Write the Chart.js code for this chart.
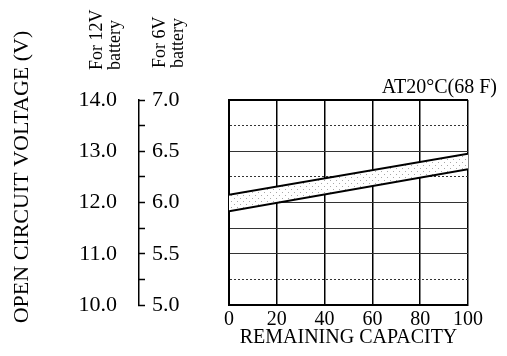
<!DOCTYPE html>
<html><head><meta charset="utf-8">
<script src="https://cdn.jsdelivr.net/npm/chart.js@4"></script>
<style>html,body{margin:0;padding:0;background:#fff}#wrap{width:507px;height:356px}</style>
</head><body><div id="wrap"><canvas id="c" width="507" height="356"></canvas></div>
<script>
// ---- data ----
const capacity = [0, 100];               // remaining capacity (%)
const upperVoltage = [12.15, 12.95];     // 12V battery, upper bound
const lowerVoltage = [11.83, 12.65];     // 12V battery, lower bound
const xTicks = [0, 20, 40, 60, 80, 100];
const volt12Ticks = [10, 11, 12, 13, 14];
const volt6Ticks = [5, 5.5, 6, 6.5, 7];
const dottedLevels = [13.5, 12.5, 10.5];

const serif = "'Liberation Serif', 'Times New Roman', serif";
Chart.defaults.font.family = serif;
Chart.defaults.color = '#000';

// stipple pattern for the band
const dots = document.createElement('canvas'); dots.width = 6; dots.height = 6;
const dctx = dots.getContext('2d');
dctx.fillStyle = '#fff'; dctx.fillRect(0, 0, 6, 6);
dctx.fillStyle = '#a8a8a8'; dctx.fillRect(0, 0, 1, 1); dctx.fillRect(3, 3, 1, 1);
const stipple = dctx.createPattern(dots, 'repeat');

const toPts = (xs, ys) => xs.map((x, i) => ({x, y: ys[i]}));

const sideText = {
  id: 'sideText',
  afterDraw(chart) {
    const ctx = chart.ctx;
    const y12 = chart.scales.y12, y6 = chart.scales.y6, ca = chart.chartArea;
    function vtext(t, x, y, size, align) {
      ctx.save(); ctx.translate(x, y); ctx.rotate(-Math.PI / 2);
      ctx.font = size + 'px ' + serif; ctx.fillStyle = '#000';
      ctx.textAlign = align; ctx.textBaseline = 'middle';
      ctx.fillText(t, 0, 0); ctx.restore();
    }
    vtext('OPEN CIRCUIT VOLTAGE (V)', y12.left + 22, ca.top + 77, 22, 'center');
    vtext('For 12V', y12.right - 33, ca.top - 30, 18, 'left');
    vtext('battery', y12.right - 15, ca.top - 30, 18, 'left');
    vtext('For 6V', y6.right + 21, ca.top - 32, 18, 'left');
    vtext('battery', y6.right + 39, ca.top - 32, 18, 'left');
  }
};

new Chart(document.getElementById('c'), {
  type: 'line',
  data: {
    datasets: [
      {data: toPts(capacity, lowerVoltage), yAxisID: 'y12', borderColor: '#000', borderWidth: 2, pointRadius: 0, fill: false},
      {data: toPts(capacity, upperVoltage), yAxisID: 'y12', borderColor: '#000', borderWidth: 2, pointRadius: 0, fill: '-1', backgroundColor: stipple}
    ]
  },
  options: {
    responsive: false, animation: false,
    layout: {padding: {top: 76, right: 10, left: 0, bottom: 0}},
    plugins: {
      legend: {display: false}, tooltip: {enabled: false},
      title: {display: true, text: 'AT20°C(68 F)', align: 'end', color: '#000', font: {size: 20, weight: 'normal'}, padding: {top: 0, bottom: 0}}
    },
    scales: {
      x: {
        type: 'linear', min: 0, max: 100, position: 'bottom',
        afterBuildTicks: s => { s.ticks = xTicks.map(v => ({value: v})); },
        ticks: {font: {size: 20}, padding: 3, color: '#000', maxRotation: 0},
        grid: {color: '#000', lineWidth: 1.5, drawTicks: false},
        border: {color: '#000', width: 2},
        title: {display: true, text: 'REMAINING CAPACITY', color: '#000', font: {size: 20}, padding: {top: 0, bottom: 6}},
        afterFit: s => { s.height = 51; }
      },
      y12: {
        type: 'linear', position: 'left', weight: 3, min: 10, max: 14,
        afterBuildTicks: s => { s.ticks = volt12Ticks.map(v => ({value: v})); },
        ticks: {font: {size: 22}, padding: 5, color: '#000', callback: v => Number(v).toFixed(1)},
        grid: {display: false}, border: {display: false},
        afterFit: s => { s.width = 130; }
      },
      y6: {
        type: 'linear', position: 'left', weight: 2, min: 5, max: 7,
        ticks: {stepSize: 0.25, autoSkip: false, mirror: true, padding: 13, color: '#000', font: {size: 22},
                callback: v => volt6Ticks.includes(v) ? Number(v).toFixed(1) : ''},
        grid: {drawOnChartArea: false, drawTicks: true, tickLength: -6, tickColor: '#000', tickWidth: 1.5},
        border: {display: true, color: '#000', width: 1.5},
        afterFit: s => { s.width = 9; }
      },
      yg: {
        type: 'linear', position: 'left', weight: 1, min: 10, max: 14,
        ticks: {display: false, stepSize: 0.5},
        grid: {
          drawTicks: false,
          color: c => (c.tick && (c.tick.value === 14 || c.tick.value === 10)) ? '#000' : '#333',
          lineWidth: c => (c.tick && (c.tick.value === 14 || c.tick.value === 10)) ? 2 : 1
        },
        border: {color: '#000', width: 2, dash: c => (c.tick && dottedLevels.includes(c.tick.value)) ? [2, 2] : []},
        afterFit: s => { s.width = 90; }
      },
      yr: {
        type: 'linear', position: 'right', display: true,
        ticks: {display: false}, grid: {display: false}, border: {display: false},
        afterFit: s => { s.width = 29; }
      }
    }
  },
  plugins: [sideText]
});
</script></body></html>
